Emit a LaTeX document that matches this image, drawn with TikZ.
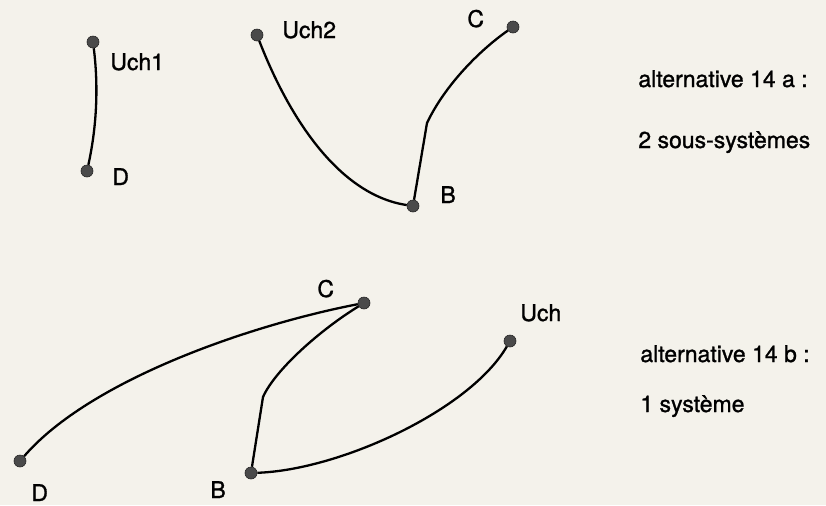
\documentclass[tikz,border=0pt]{standalone}
\usepackage{fontspec}
\setmainfont{TeX Gyre Heros}
\newfontfamily\epais{TeX Gyre Heros}[FakeBold=1.2]
\usetikzlibrary{positioning}
\definecolor{papier}{HTML}{F4F2EB}
\definecolor{pointgris}{HTML}{4A4A4A}

\begin{document}
\begin{tikzpicture}[
  x=0.5pt, y=-0.5pt,
  sommet/.style={circle, fill=pointgris, draw=black!85, line width=0.3pt,
                 minimum size=6pt, inner sep=0pt},
  arete/.style={black, line width=1.15pt},
  etiquette/.style={anchor=base west, inner sep=0pt,
                    font=\epais\fontsize{11.5}{13}\selectfont}
]
  \fill[papier] (0,0) rectangle (826,505);
  \useasboundingbox (0,0) rectangle (826,505);

  % alternative 14 a
  \node[sommet] (ua1) at (93,42) {};
  \node[sommet] (da) at (87,171) {};
  \node[sommet] (ua2) at (257,35) {};
  \node[sommet] (ba) at (413,206) {};
  \node[sommet] (ca) at (513,27) {};
  \coordinate (kba) at (427,123);

  \node[etiquette] (lua1) at (110,70) {Uch1};
  \node[etiquette] (lda) at (112,185) {D};
  \node[etiquette] (lua2) at (282,38) {Uch2};
  \node[etiquette] (lca) at (467,27) {C};
  \node[etiquette] (lba) at (440,203) {B};
  \node[etiquette] (alta) at (638,87) {alternative 14 a :};
  \node[etiquette] (sysa) at (638,148) {2 sous-systèmes};

  \draw[arete] (ua1) .. controls (99,90) and (96,130) .. (da);
  \draw[arete] (ua2) .. controls (290,120) and (340,195) .. (ba);
  \draw[arete] (ba) -- (kba) .. controls (445,85) and (480,50) .. (ca);

  % alternative 14 b
  \node[sommet] (db) at (20,461) {};
  \node[sommet] (cb) at (364,303) {};
  \node[sommet] (bb) at (251,473) {};
  \node[sommet] (ub) at (510,341) {};
  \coordinate (kcb) at (263,397);

  \node[etiquette] (ldb) at (31,501) {D};
  \node[etiquette] (lbb) at (210,498) {B};
  \node[etiquette] (lcb) at (317,297) {C};
  \node[etiquette] (lub) at (520,321) {Uch};
  \node[etiquette] (altb) at (640,362) {alternative 14 b :};
  \node[etiquette] (sysb) at (640,412) {1 système};

  \draw[arete] (db) .. controls (90,380) and (250,325) .. (cb);
  \draw[arete] (cb) .. controls (320,330) and (275,370) .. (kcb) -- (bb);
  \draw[arete] (bb) .. controls (340,470) and (470,410) .. (ub);
\end{tikzpicture}
\end{document}
